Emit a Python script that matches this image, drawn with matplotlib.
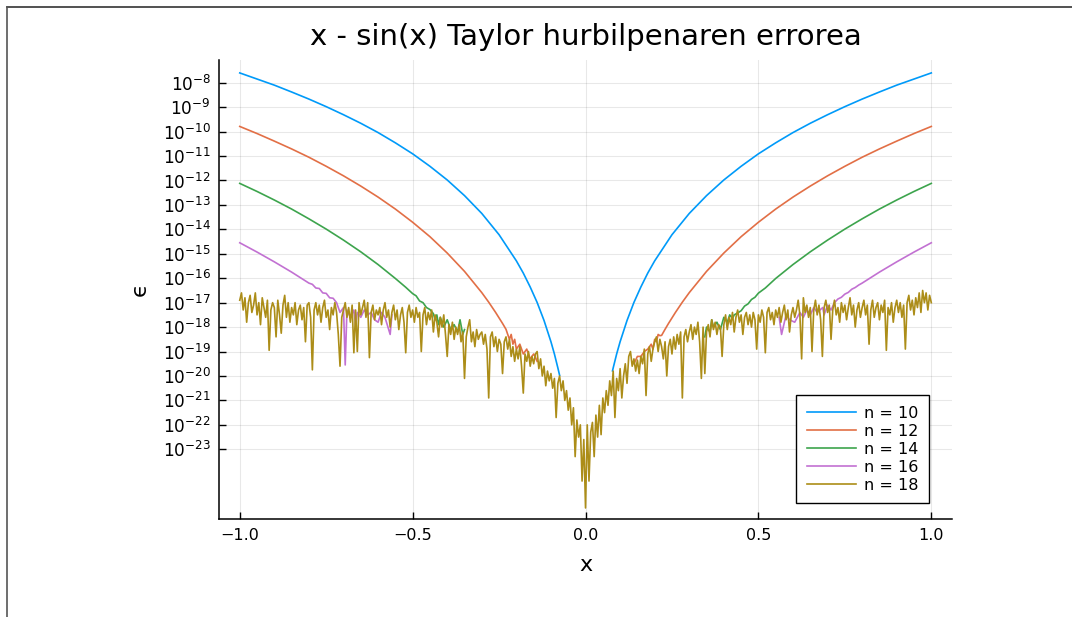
import numpy as np
import matplotlib
matplotlib.use('Agg')
import matplotlib.pyplot as plt
from matplotlib.lines import Line2D

nan = np.nan

# erroreak log10 eskalan irakurrita (grafikotik)
# n = 10
x_n10 = [-1.0, -0.95, -0.9, -0.85, -0.8, -0.75, -0.7, -0.65, -0.6, -0.55, -0.5, -0.45, -0.4,
         -0.35, -0.3, -0.25, -0.2, -0.18, -0.16, -0.14, -0.12, -0.1, -0.09, -0.08, -0.075, nan,
         0.078, 0.08, 0.09, 0.1, 0.12, 0.14, 0.16, 0.18, 0.2, 0.25, 0.3, 0.35, 0.4, 0.45, 0.5,
         0.55, 0.6, 0.65, 0.7, 0.75, 0.8, 0.85, 0.9, 0.95, 1.0]
log_n10 = [-7.60, -7.85, -8.10, -8.38, -8.67, -8.98, -9.31, -9.66, -10.04, -10.46, -10.91, -11.42,
           -11.98, -12.62, -13.35, -14.22, -15.29, -15.79, -16.36, -16.99, -17.73, -18.60, -19.10,
           -19.67, -19.97, nan,
           -19.79, -19.67, -19.10, -18.60, -17.73, -16.99, -16.36, -15.79, -15.29, -14.22, -13.35,
           -12.62, -11.98, -11.42, -10.91, -10.46, -10.04, -9.66, -9.31, -8.98, -8.67, -8.38, -8.10,
           -7.85, -7.60]

# n = 12
x_n12 = [-1.0, -0.95, -0.9, -0.85, -0.8, -0.75, -0.7, -0.65, -0.6, -0.55, -0.5, -0.45, -0.4, -0.35,
         -0.3, -0.28, -0.26, -0.24, -0.23, -0.225, -0.22, -0.215, -0.21, -0.205, -0.2, -0.19, -0.18,
         -0.17, -0.16, -0.15, -0.146, -0.14, nan,
         0.14, 0.15, 0.16, 0.17, 0.18, 0.19, 0.195, 0.2, 0.205, 0.21, 0.215, 0.22, 0.23, 0.24, 0.26,
         0.28, 0.3, 0.35, 0.4, 0.45, 0.5, 0.55, 0.6, 0.65, 0.7, 0.75, 0.8, 0.85, 0.9, 0.95, 1.0]
log_n12 = [-9.79, -10.08, -10.39, -10.71, -11.05, -11.42, -11.81, -12.23, -12.68, -13.17, -13.71,
           -14.30, -14.97, -15.72, -16.59, -16.98, -17.40, -17.85, -18.09, -18.3, -18.5, -18.3, -18.7,
           -18.5, -18.9, -18.7, -19.1, -18.9, -19.3, -19.1, -19.2, -19.4, nan,
           -19.5, -19.2, -19.2, -19.0, -18.9, -18.7, -18.9, -18.5, -18.6, -18.3, -18.35, -18.34,
           -18.09, -17.85, -17.40, -16.98, -16.59, -15.72, -14.97, -14.30, -13.71, -13.17, -12.68,
           -12.23, -11.81, -11.42, -11.05, -10.71, -10.39, -10.08, -9.79]

# n = 14
x_n14 = [-1.0, -0.95, -0.9, -0.85, -0.8, -0.75, -0.7, -0.65, -0.6, -0.55, -0.52, -0.5, -0.49, -0.48,
         -0.47, -0.46, -0.45, -0.44, -0.435, -0.43, -0.425, -0.42, -0.41, -0.4, -0.39, -0.38, -0.37,
         -0.363, -0.355, -0.35, nan,
         0.345, 0.35, 0.36, 0.365, 0.37, 0.38, 0.39, 0.4, 0.41, 0.417, 0.425, 0.43, 0.44, 0.45, 0.46,
         0.47, 0.48, 0.49, 0.5, 0.52, 0.55, 0.6, 0.65, 0.7, 0.75, 0.8, 0.85, 0.9, 0.95, 1.0]
log_n14 = [-12.12, -12.45, -12.80, -13.17, -13.57, -13.99, -14.44, -14.92, -15.44, -16.01, -16.37,
           -16.63, -16.72, -16.93, -17.0, -17.2, -17.28, -17.45, -17.7, -17.5, -17.9, -17.6, -18.0,
           -17.7, -18.1, -17.9, -18.2, -17.7, -18.3, -18.1, nan,
           -18.4, -18.0, -18.2, -17.7, -18.0, -17.8, -18.1, -17.6, -17.8, -17.5, -17.65, -17.5,
           -17.42, -17.33, -17.14, -17.05, -16.87, -16.78, -16.61, -16.40, -16.01, -15.44, -14.92,
           -14.44, -13.99, -13.57, -13.17, -12.80, -12.45, -12.12]

# n = 16
x_n16 = [-1.0, -0.95, -0.9, -0.85, -0.8, -0.79, -0.78, -0.77, -0.76, -0.75, -0.74, -0.73, -0.72,
         -0.71, -0.7, -0.695, -0.69, -0.68, -0.67, -0.665, -0.66, -0.65, -0.64, -0.63, -0.62, -0.61,
         -0.6, -0.59, -0.58, -0.565, -0.56, nan,
         0.56, 0.567, 0.58, 0.59, 0.605, 0.62, 0.63, 0.64, 0.65, 0.66, 0.67, 0.686, 0.69, 0.7, 0.71,
         0.72, 0.73, 0.74, 0.75, 0.76, 0.77, 0.78, 0.79, 0.8, 0.85, 0.9, 0.95, 1.0]
log_n16 = [-14.55, -14.93, -15.33, -15.75, -16.20, -16.25, -16.40, -16.42, -16.60, -16.62, -16.80,
           -16.82, -17.0, -17.4, -17.2, -19.55, -17.3, -17.6, -17.3, -17.9, -17.4, -17.6, -17.3,
           -17.5, -17.4, -17.7, -17.8, -17.4, -17.6, -18.3, -17.5, nan,
           -17.6, -18.3, -17.5, -17.7, -17.8, -17.4, -17.6, -17.3, -17.5, -17.2, -17.4, -17.2, -17.5,
           -17.1, -17.3, -17.0, -16.85, -16.78, -16.65, -16.58, -16.45, -16.38, -16.28, -16.20,
           -15.75, -15.33, -14.93, -14.55]

# n = 18 (x = -1 ... 1, 0.005 pausoa)
x_n18 = np.linspace(-1.0, 1.0, 401)
log_n18 = [
    -16.9, -16.6, -17.3, -16.8, -17.8, -17.0, -16.7, -17.4, -17.1, -16.6, -17.5, -17.0, -17.9, -16.8, -17.2, -17.6, -16.9, -18.95, -17.3, -17.0,
    -17.2, -18.4, -16.9, -17.5, -18.25, -17.1, -16.7, -17.6, -17.0, -17.8, -17.2, -17.5, -17.0, -17.9, -17.3, -17.1, -17.7, -17.2, -18.6, -17.1,
    -17.0, -17.6, -19.75, -17.3, -17.0, -17.5, -17.1, -17.8, -17.2, -16.9, -17.6, -17.3, -18.1, -17.2, -17.5, -17.0, -17.4, -18.3, -19.6, -17.6,
    -17.3, -17.0, -17.6, -17.2, -17.8, -17.1, -19.05, -17.3, -19.0, -17.0, -17.5, -17.2, -16.9, -17.6, -17.0, -19.25, -17.4, -17.1, -17.7, -17.3,
    -17.5, -17.2, -17.9, -17.3, -17.0, -17.6, -17.3, -18.0, -17.4, -17.1, -17.7, -17.3, -18.1, -17.5, -17.2, -17.8, -19.05, -17.4, -17.1, -17.6,
    -17.3, -17.8, -17.2, -17.6, -17.4, -19.0, -17.5, -17.2, -17.9, -17.4, -17.7, -17.3, -18.2, -17.5, -17.8, -18.4, -17.6, -18.0, -17.5, -18.3,
    -19.2, -17.9, -18.3, -17.8, -18.5, -18.0, -18.3, -17.9, -18.6, -18.2, -20.1, -18.4, -18.0, -17.7, -18.6, -18.2, -18.8, -18.1, -18.5, -18.3,
    -18.2, -18.7, -18.3, -18.9, -20.9, -18.4, -18.2, -18.8, -18.4, -19.0, -18.5, -18.7, -19.9, -18.6, -18.4, -18.9, -18.5, -19.2, -18.8, -19.4,
    -18.9, -19.3, -18.8, -19.6, -20.7, -19.1, -19.4, -19.0, -19.6, -19.2, -19.5, -19.1, -19.0, -19.7, -19.3, -20.0, -19.6, -20.4, -19.8, -20.2,
    -19.9, -20.5, -20.1, -21.7, -20.3, -20.0, -20.6, -20.2, -21.0, -20.6, -21.4, -20.9, -22.0, -21.3, -23.3, -21.8, -22.5, -22.0, -24.3, -22.6,
    -25.4, -22.0, -24.3, -22.3, -21.9, -23.3, -21.6, -22.5, -21.2, -22.4, -20.9, -21.5, -20.6, -21.2, -20.2, -20.8, -19.8, -21.7, -20.1, -20.6,
    -19.7, -20.9, -20.0, -19.5, -20.3, -19.2, -19.0, -19.6, -19.3, -19.8, -19.35, -19.9, -19.2, -19.5, -18.9, -20.8, -19.1, -18.8, -19.4, -18.9,
    -18.6, -18.4, -19.0, -18.5, -18.8, -19.3, -18.6, -20.0, -18.8, -18.5, -19.1, -18.4, -18.9, -18.3, -18.7, -18.2, -20.9, -18.4, -18.1, -18.6,
    -18.2, -17.9, -18.5, -18.0, -18.3, -17.8, -18.6, -20.1, -18.0, -19.9, -18.2, -17.9, -18.4, -17.7, -18.1, -17.8, -18.3, -17.9, -18.0, -19.2,
    -17.9, -17.5, -18.1, -17.6, -17.9, -17.4, -18.2, -17.6, -17.3, -17.8, -17.5, -18.3, -17.6, -17.4, -17.9, -17.5, -18.0, -17.4, -17.7, -18.9,
    -17.5, -17.8, -17.3, -17.6, -19.05, -17.4, -17.2, -17.7, -17.4, -17.9, -17.3, -17.6, -17.2, -17.8, -17.4, -17.1, -17.7, -17.3, -18.2, -17.5,
    -17.2, -17.6, -17.3, -16.9, -17.5, -19.3, -16.8, -17.4, -17.1, -17.6, -17.2, -19.0, -17.3, -16.9, -17.5, -17.1, -17.7, -19.2, -17.2, -16.9,
    -17.4, -17.1, -18.5, -17.3, -16.9, -17.5, -17.2, -17.8, -17.0, -17.4, -17.1, -17.7, -17.2, -16.8, -17.5, -17.1, -18.0, -17.3, -17.0, -17.6,
    -17.2, -16.9, -17.5, -17.1, -18.7, -17.3, -16.9, -17.6, -17.2, -17.0, -17.7, -17.1, -17.4, -16.9, -18.95, -17.2, -17.5, -17.0, -17.8, -17.2,
    -16.9, -17.4, -17.0, -17.6, -17.1, -18.9, -17.0, -16.7, -17.3, -16.9, -17.5, -16.8, -17.2, -16.6, -17.4, -16.5, -17.0, -16.6, -17.3, -16.7,
    -17.0]

series = [(x_n10, log_n10, '#009af9', 'n = 10'),
          (x_n12, log_n12, '#e26f46', 'n = 12'),
          (x_n14, log_n14, '#3da44d', 'n = 14'),
          (x_n16, log_n16, '#c271d2', 'n = 16'),
          (x_n18, log_n18, '#ac8d18', 'n = 18')]

plt.rcParams['font.family'] = 'DejaVu Sans'
plt.rcParams['mathtext.fontset'] = 'dejavusans'

fig = plt.figure(figsize=(10.72, 6.17), dpi=100)
ax = fig.add_axes([0.2043, 0.1593, 0.6838, 0.7435])

for xs, ls, col, lab in series:
    ax.plot(xs, 10.0 ** np.array(ls, dtype=float), color=col, lw=1.2, label=lab)

ax.set_yscale('log')
ax.set_xlim(-1.06, 1.06)
ax.set_ylim(10 ** -25.84, 10 ** -7.07)

yexp = list(range(-8, -24, -1))
ax.set_yticks([10.0 ** k for k in yexp])
ax.set_yticklabels([f'$10^{{{k}}}$' for k in yexp])
ax.yaxis.set_minor_locator(matplotlib.ticker.NullLocator())
ax.set_xticks([-1.0, -0.5, 0.0, 0.5, 1.0])
ax.set_xticklabels(['\u22121.0', '\u22120.5', '0.0', '0.5', '1.0'])

ax.grid(True, color='black', alpha=0.09, lw=0.8)
ax.spines['top'].set_visible(False)
ax.spines['right'].set_visible(False)
for s in ['left', 'bottom']:
    ax.spines[s].set_linewidth(1.1)
ax.tick_params(direction='in', length=5, width=1, labelsize=11.5, pad=7)
ax.tick_params(axis='y', labelsize=12.2, pad=6)

ax.set_title('x - sin(x) Taylor hurbilpenaren errorea', fontsize=21, pad=11)
ax.set_xlabel('x', fontsize=16, labelpad=8)
ax.set_ylabel('\u03f5', fontsize=16, labelpad=9)

leg = ax.legend(loc='lower right', bbox_to_anchor=(0.9686, 0.0342), borderaxespad=0,
                fontsize=11.5, fancybox=False, framealpha=1, edgecolor='black',
                handlelength=3.1, handletextpad=0.5, labelspacing=0.19, borderpad=0.65)
leg.get_frame().set_linewidth(1.0)

# marko mehea irudiaren ertzean
fig.add_artist(Line2D([0.0065, 1.0], [0.9887, 0.9887], color='#333333', lw=1.2))
fig.add_artist(Line2D([0.0065, 0.0065], [0.0, 0.9887], color='#555555', lw=1.2))

fig.savefig('out.png', dpi=100)
